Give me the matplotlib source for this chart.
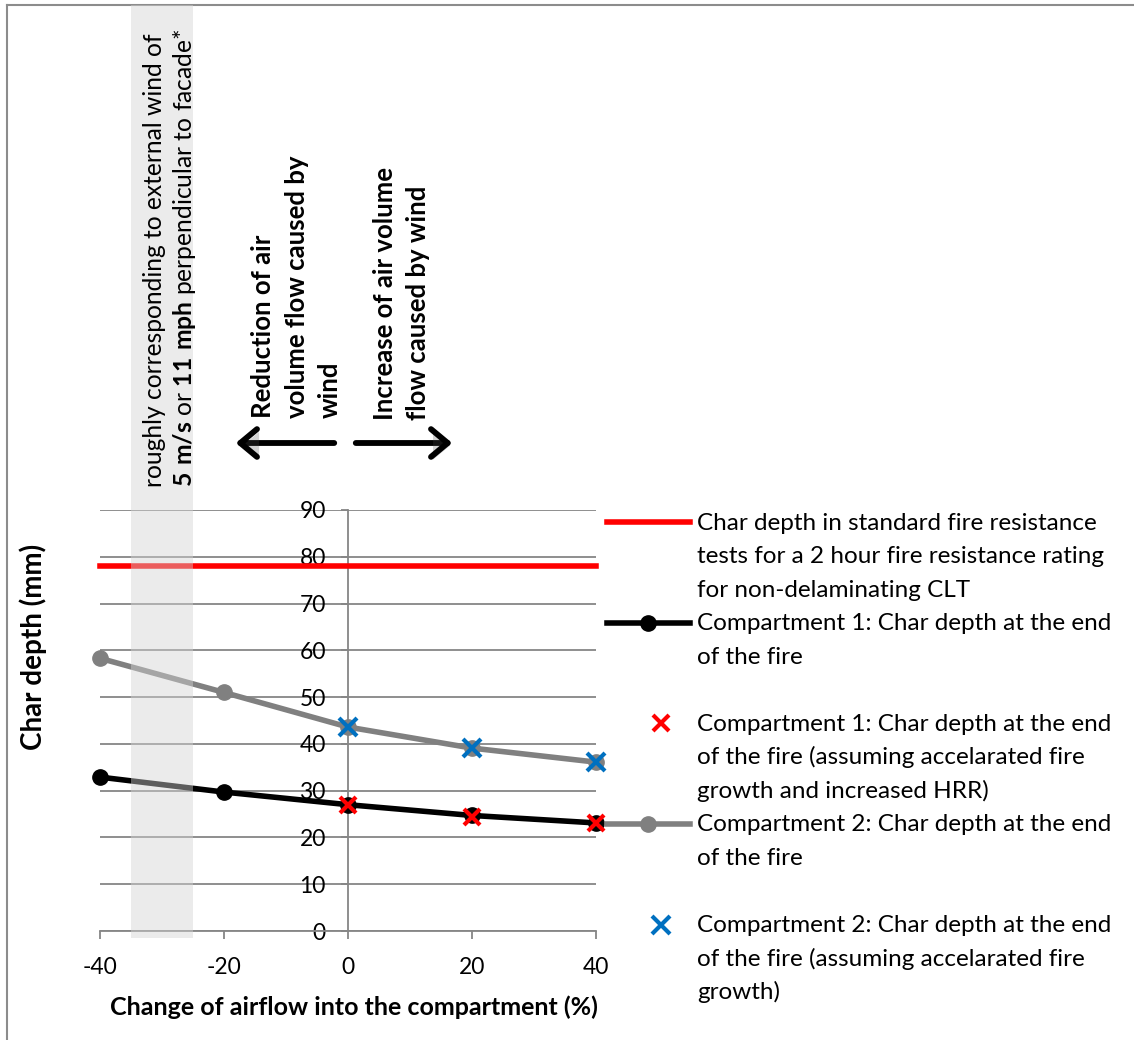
import matplotlib
matplotlib.use('Agg')
import matplotlib.pyplot as plt
import matplotlib.patheffects as pe
from matplotlib.lines import Line2D
from matplotlib.patches import Rectangle, FancyArrowPatch
from matplotlib import transforms

plt.rcParams['font.family'] = ['Lato', 'DejaVu Sans']
plt.rcParams['mathtext.fontset'] = 'custom'
plt.rcParams['mathtext.rm'] = 'Lato'
plt.rcParams['mathtext.bf'] = 'Lato:bold'
plt.rcParams['axes.unicode_minus'] = False

# change of airflow into the compartment (%)
airflow = [-40, -20, 0, 20, 40]
# char depth (mm)
standard_char = [78, 78, 78, 78, 78]
comp1 = [32.9, 29.7, 27.0, 24.7, 23.1]
comp2 = [58.3, 51.0, 43.6, 39.1, 36.1]
accel_airflow = [0, 20, 40]
comp1_accel = [27.0, 24.4, 23.1]
comp2_accel = [43.6, 39.1, 36.1]

wind_band = [-35, -25]

legend_labels = [
    "Char depth in standard fire resistance\ntests for a 2 hour fire resistance rating\nfor non-delaminating CLT",
    "Compartment 1: Char depth at the end\nof the fire",
    "Compartment 1: Char depth at the end\nof the fire (assuming accelarated fire\ngrowth and increased HRR)",
    "Compartment 2: Char depth at the end\nof the fire",
    "Compartment 2: Char depth at the end\nof the fire (assuming accelarated fire\ngrowth)",
]

W, H = 1134, 1040
FS = 17.5


def fx(x):
    return x / W


def fy(y):
    return 1 - y / H


fig = plt.figure(figsize=(W / 100, H / 100), dpi=100)
ax = fig.add_axes([fx(100), fy(931), 496 / W, 421 / H])

red_line, = ax.plot(airflow, standard_char, color='#ff0000', lw=4, clip_on=False, zorder=3)
c1_line, = ax.plot(airflow, comp1, color='black', lw=4, marker='o', ms=11,
                   clip_on=False, zorder=4)
c1_x, = ax.plot(accel_airflow, comp1_accel, ls='none', marker='x', ms=11, mew=3,
                color='#ff0000', clip_on=False, zorder=5)
c2_line, = ax.plot(airflow, comp2, color='#808080', lw=4, marker='o', ms=11,
                   clip_on=False, zorder=6)
c2_x, = ax.plot(accel_airflow, comp2_accel, ls='none', marker='x', ms=13, mew=3,
                color='#0070c0', clip_on=False, zorder=7)

ax.set_xlim(-40, 40)
ax.set_ylim(0, 90)
ax.set_xticks([-40, -20, 0, 20, 40])
ax.set_yticks(range(0, 100, 10))
for s in ['top', 'right']:
    ax.spines[s].set_visible(False)
ax.spines['left'].set_position(('data', 0))
for s in ['left', 'bottom']:
    ax.spines[s].set_color('#868686')
    ax.spines[s].set_linewidth(1.3)
ax.grid(axis='y', color='#868686', lw=1.3)
ax.set_axisbelow(True)
ax.tick_params(axis='x', direction='out', length=6, width=1.3, color='#868686',
               pad=13, labelsize=16.5)
ax.tick_params(axis='y', direction='out', length=5, width=1.3, color='#868686',
               pad=11, labelsize=16.5)

# shaded wind band over the plot, running up to the top of the figure
band_tr = transforms.blended_transform_factory(ax.transData, fig.transFigure)
band = Rectangle((wind_band[0], fy(938)), wind_band[1] - wind_band[0], fy(5) - fy(938),
                 transform=band_tr, facecolor=(0.83, 0.83, 0.83), alpha=0.445,
                 lw=0, zorder=10)
fig.add_artist(band)

# figure frame (top and left edges)
fig.add_artist(Line2D([fx(7), fx(7)], [0, fy(5)], color='#8c8c8c', lw=1.5))
fig.add_artist(Line2D([fx(7), 1], [fy(5), fy(5)], color='#8c8c8c', lw=1.5))

fig.text(fx(155), fy(487), 'roughly corresponding to external wind of', rotation=90,
         ha='center', va='bottom', fontsize=17.7, zorder=20)
fig.text(fx(185), fy(487), r'$\mathbf{5\ m/s}$ or $\mathbf{11\ mph}$ perpendicular to facade*',
         rotation=90, ha='center', va='bottom', fontsize=17.7, zorder=20)

for x, t in zip([263, 297, 330], ['Reduction of air', 'volume flow caused by', 'wind']):
    fig.text(fx(x), fy(418), t, rotation=90, ha='center', va='bottom', fontsize=18.5,
             fontweight='bold', zorder=20)
for x, t in zip([385, 418], ['Increase of air volume', 'flow caused by wind']):
    fig.text(fx(x), fy(420), t, rotation=90, ha='center', va='bottom', fontsize=18.5,
             fontweight='bold', zorder=20)

shadow = [pe.SimplePatchShadow(offset=(1.5, -2), alpha=0.25), pe.Normal()]
for x0, x1 in [(337, 233), (353, 455)]:
    arr = FancyArrowPatch((fx(x0), fy(443)), (fx(x1), fy(443)), transform=fig.transFigure,
                          arrowstyle='->,head_length=0.6,head_width=0.5', mutation_scale=20,
                          lw=4.2, color='black', capstyle='round', joinstyle='round',
                          path_effects=shadow, zorder=20)
    fig.add_artist(arr)

fig.text(fx(33), fy(647), 'Char depth (mm)', rotation=90, ha='center', va='center',
         fontsize=20, fontweight='bold')
fig.text(fx(354), fy(1007), 'Change of airflow into the compartment (%)', ha='center',
         va='center', fontsize=18, fontweight='bold')

# legend drawn by hand: three text rows per entry
row_h = 33.55
handles = [red_line, c1_line, c1_x, c2_line, c2_x]
for k, (h, lab) in enumerate(zip(handles, legend_labels)):
    yc = 522 + 3 * row_h * k
    if h.get_linestyle() == 'None':
        fig.add_artist(Line2D([fx(661)], [fy(yc)], ls='none', marker=h.get_marker(),
                              ms=h.get_markersize(), mew=h.get_markeredgewidth(),
                              color=h.get_color()))
    else:
        fig.add_artist(Line2D([fx(607), fx(648), fx(690)], [fy(yc)] * 3, color=h.get_color(),
                              lw=h.get_linewidth(), marker=h.get_marker(),
                              ms=h.get_markersize(), markevery=[1]))
    for j, line in enumerate(lab.split('\n')):
        fig.text(fx(697), fy(yc + j * row_h + 7.5), line, ha='left', va='baseline', fontsize=FS)

fig.savefig('out.png', dpi=100, facecolor='white')
